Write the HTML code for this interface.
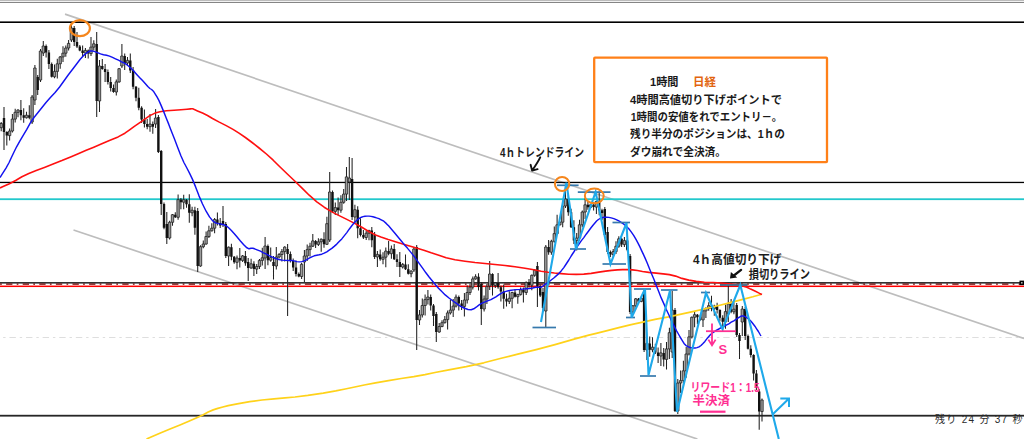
<!DOCTYPE html>
<html><head><meta charset="utf-8"><title>chart</title><style>html,body{margin:0;padding:0;background:#fff;overflow:hidden;font-family:"Liberation Sans",sans-serif}svg{display:block}</style></head><body><svg width="1024" height="439" viewBox="0 0 1024 439" shape-rendering="auto"><rect x="0" y="0" width="1024" height="439" fill="#fff"/><rect x="0" y="0" width="1024" height="1" fill="#bcbcbc"/><rect x="0" y="1" width="1024" height="1" fill="#f2f2f2"/><rect x="0" y="2" width="1024" height="1" fill="#858585"/><line x1="0" y1="337.5" x2="1024" y2="337.5" stroke="#dedede" stroke-width="1" stroke-dasharray="6.4 3.9 2.4 3.9" stroke-dashoffset="-9.45"/><g stroke="#bdbdbd" stroke-width="1.7" fill="none"><line x1="65" y1="14.1" x2="1024" y2="338.5"/><line x1="73.5" y1="230" x2="697.4" y2="439"/></g><g fill="#000"><rect x="0" y="21.4" width="1024" height="1.6"/><rect x="0" y="181.8" width="1024" height="1.3"/><rect x="0" y="414.8" width="1024" height="1.8" fill="#262626"/></g><rect x="0" y="198.3" width="1024" height="1.8" fill="#22c8cc"/><rect x="0" y="282.2" width="1021" height="1.3" fill="#000"/><line x1="0" y1="284.1" x2="1020" y2="284.1" stroke="#6a0000" stroke-width="1.3" stroke-dasharray="6.3 4.3 1.7 4.3" stroke-dashoffset="-6.1"/><rect x="0" y="285.55" width="1024" height="1.5" fill="#ff0000"/><rect x="1019.5" y="280.6" width="4.5" height="4.5" fill="#000"/><rect x="1021" y="282" width="1.6" height="1.6" fill="#aaa"/><path d="M1.2 122V131.2M4 107V150M6.8 131.2V145.6M9.6 128.5V140.6M12.4 114.1V132.5M15.2 108.8V122.6M18 109.2V117.3M20.9 100V120.2M23.7 108.2V122.8M26.5 111.7V118.6M29.3 105.2V119.3M32.1 95V124M34.9 65V105M37.7 75V95M40.5 49V82M43.3 41V56M46.1 44.5V57.5M48.9 50V69.1M51.7 62.6V77.6M54.5 64.4V78.3M57.3 58.8V78.4M60.2 56.1V68.8M63 46.2V61.9M65.8 45.5V56.7M68.6 39.9V50.5M71.4 23.5V42M74.2 26V46M77 32V48M79.8 45V51.2M82.6 45.4V56.5M85.4 47.9V58M88.2 49.6V58.6M91 37.1V56.1M93.8 40.3V50.6M96.7 32V117M99.5 60V112M102.3 59V69.7M105.1 63.9V81.9M107.9 69.4V84.5M110.7 77V91.5M113.5 84.5V92.8M116.3 79.4V95.5M119.1 67.9V82.7M121.9 44V68M124.7 53.5V70M127.5 56.9V65.5M130.3 53.4V72.9M133.1 66.9V89.2M136 85.9V101.2M138.8 87.7V110.2M141.6 106.2V123M144.4 109.5V127.6M147.2 119.1V129.2M150 114.1V131.7M152.8 121.6V133.7M155.6 109V128M158.4 115V153M161.2 150V215M164 202.5V229.3M166.8 212V244M169.6 220.8V239.5M172.5 213.9V225.8M175.3 212.2V218.1M178.1 194.6V219.8M180.9 198.1V209.2M183.7 194.7V209.2M186.5 198.9V207.8M189.3 194.3V222.8M192.1 206.7V216.3M194.9 206.7V234.7M197.7 208V272M200.5 245.2V266.8M203.3 240.5V248.2M206.1 231.5V244.8M208.9 225.8V238M211.8 223.2V231.6M214.6 218V233.2M217.4 212.5V225.4M220.2 217.9V228M223 206V227M225.8 222V258M228.6 246.4V266M231.4 243.7V260.2M234.2 255.9V263.8M237 255.5V269.3M239.8 248V267.4M242.6 255.1V261.9M245.4 250.9V265.7M248.2 258V281M251.1 258.8V268.8M253.9 261.3V276.1M256.7 264V274.1M259.5 258.9V269M262.3 247.8V265.4M265.1 237V269M267.9 244.5V265.2M270.7 247.6V261.7M273.5 256V279.5M276.3 247V269.5M279.1 253V258.5M281.9 249.1V261.5M284.7 246.3V261.6M287.6 244V316M290.4 251.5V262.6M293.2 258.6V271.1M296 260.6V276.4M298.8 272.4V277.3M301.6 262.8V279M304.4 250V282M307.2 244.6V261M310 242.7V256.6M312.8 233.9V247M315.6 240.1V247.9M318.4 238.3V245.9M321.2 238.4V251.8M324 232.2V247.8M326.9 216.7V245.1M329.7 172V242M332.5 190.5V212.9M335.3 202.6V214.9M338.1 197.6V215.2M340.9 195.3V212.7M343.7 189.1V203.8M346.5 166.9V201.1M349.3 157V200M352.1 158V220M354.9 204.7V224M357.7 206.2V238.2M360.5 218.2V236.4M363.4 229.9V239M366.2 230.7V240M369 229.8V240.2M371.8 227.1V247.2M374.6 232V259M377.4 250.9V267M380.2 249.4V260.8M383 252.2V264.3M385.8 247.6V267.2M388.6 241.1V255.2M391.4 245.4V258.7M394.2 243.9V260M397 254.2V267.1M399.8 252.1V277M402.7 262.9V268.5M405.5 254.4V270M408.3 264.2V274.5M411.1 270.3V277.2M413.9 247V272M416.7 245V350M419.5 309.9V325M422.3 298.5V317.4M425.1 294.6V315.5M427.9 290V304.6M430.7 294.5V310.6M433.5 304.1V326.1M436.3 312V342M439.2 323V332.8M442 320.2V327.3M444.8 316.1V323.5M447.6 310.4V329.6M450.4 300.1V314.4M453.2 299.1V317.1M456 294.6V307.6M458.8 295.6V310.6M461.6 300.1V309.9M464.4 293V316.4M467.2 285.5V303.5M470 283.6V295M472.8 276.4V289.6M475.6 274.2V279.7M478.5 273.2V290.5M481.3 282V325M484.1 295.5V311.5M486.9 284.1V304M489.7 261V290M492.5 273.2V295.5M495.3 282.1V288M498.1 272.9V288.8M500.9 285.8V301.6M503.7 284.6V308.8M506.5 293.8V306.4M509.3 291.3V303.9M512.1 291.7V308.3M515 289V297.5M517.8 293.8V303.7M520.6 287.4V295.4M523.4 287.4V302.5M526.2 281.6V295M529 278.9V287.7M531.8 274.5V290.2M534.6 269.3V276.8M537.4 262V307M540.2 284.5V297M543 288V310M545.8 245V327M548.6 240V254.7M551.4 239.8V254.7M554.3 226.6V242.8M557.1 214.8V234.4M559.9 221.4V225.6M562.7 201.2V227.2M565.5 185V208M568.3 194V215.7M571.1 208.7V228M573.9 220.2V244M576.7 233.1V250.5M579.5 219.8V240.6M582.3 210.5V227.3M585.1 197.8V219M587.9 201.3V209.8M590.7 203.9V208.1M593.6 202.2V210.6M596.4 200.7V214.1M599.2 191.5V215.3M602 208.8V219.9M604.8 207V237M607.6 227V254M610.4 250.5V257.1M613.2 249.1V257.1M616 241.2V254.1M618.8 236.3V247.7M621.6 238V247.1M624.4 237.1V247.1M627.2 239.1V251.3M630.1 254V314M632.9 305V312.8M635.7 298V307.3M638.5 298V303.9M641.3 296.7V302.2M644.1 290V352M646.9 338.4V360M649.7 336.4V356.8M652.5 337.2V352.3M655.3 343.7V353.9M658.1 347.4V363M660.9 342.9V366M663.7 347.9V366.4M666.5 341.9V369.4M669.4 327.7V358.9M672.2 291V358M675 308V412M677.8 379V414M680.6 370.6V393M683.4 360.8V387.6M686.2 347V377.8M689 329.9V355.5M691.8 316.5V338.4M694.6 311.2V327.3M697.4 313.9V324.3M700.2 314.8V320.7M703 310.1V326.9M705.9 307.5V317.9M708.7 302.2V310.8M711.5 295.7V311.3M714.3 304.7V315.8M717.1 302.7V313.6M719.9 309.3V321.2M722.7 315.2V331.8M725.5 304.6V328.8M728.3 285V322M731.1 299V313.3M733.9 302.2V314.3M736.7 303V337M739.5 333V359M742.3 306V336M745.2 307V340M748 334.5V349.5M750.8 345.2V357.5M753.6 354.2V380.6M756.4 370.1V390M759.2 389V429.7M762 398.5V421.6" stroke="#222" stroke-width="1.05" fill="none"/><path d="M2.8 118h2.4V132h-2.4ZM5.6 132h2.4V135.6h-2.4ZM19.7 110h2.4V115.2h-2.4ZM22.5 115.2h2.4V117.8h-2.4ZM28.1 115.2h2.4V117.8h-2.4ZM36.5 77h2.4V90h-2.4ZM44.9 46h2.4V52.5h-2.4ZM47.7 52.5h2.4V64.1h-2.4ZM50.5 64.1h2.4V76.8h-2.4ZM73 28h2.4V42h-2.4ZM75.8 42h2.4V46.5h-2.4ZM78.6 46.5h2.4V50.4h-2.4ZM81.4 50.4h2.4V53h-2.4ZM87 50.4h2.4V53.6h-2.4ZM95.5 44h2.4V101h-2.4ZM101.1 66h2.4V68.9h-2.4ZM103.9 68.9h2.4V71.9h-2.4ZM106.7 71.9h2.4V82h-2.4ZM109.5 82h2.4V88h-2.4ZM112.3 88h2.4V92h-2.4ZM123.5 56h2.4V63h-2.4ZM129.1 60.4h2.4V70.4h-2.4ZM131.9 70.4h2.4V86.7h-2.4ZM134.8 86.7h2.4V97.7h-2.4ZM137.6 97.7h2.4V107.7h-2.4ZM140.4 107.7h2.4V119.5h-2.4ZM143.2 119.5h2.4V124.1h-2.4ZM146 124.1h2.4V126.7h-2.4ZM151.6 124.1h2.4V126.7h-2.4ZM157.2 117h2.4V152h-2.4ZM160 151h2.4V204h-2.4ZM162.8 204h2.4V227.8h-2.4ZM165.6 224h2.4V238h-2.4ZM174.1 214.7h2.4V217.3h-2.4ZM179.7 199.6h2.4V202.2h-2.4ZM185.3 199.7h2.4V204.3h-2.4ZM188.1 204.3h2.4V212.8h-2.4ZM193.7 210.2h2.4V227.7h-2.4ZM196.5 211h2.4V266h-2.4ZM216.2 219.5h2.4V222.9h-2.4ZM219 222.9h2.4V225.5h-2.4ZM221.8 221h2.4V224h-2.4ZM224.6 224h2.4V256h-2.4ZM230.2 247.2h2.4V256.7h-2.4ZM233 256.7h2.4V262.3h-2.4ZM238.6 258h2.4V260.4h-2.4ZM244.2 255.9h2.4V263.2h-2.4ZM247 262h2.4V268h-2.4ZM252.7 263.8h2.4V269.1h-2.4ZM266.7 246h2.4V260.2h-2.4ZM272.3 262h2.4V266h-2.4ZM286.4 249h2.4V254h-2.4ZM289.2 254h2.4V261.1h-2.4ZM292 261.1h2.4V267.6h-2.4ZM294.8 267.6h2.4V273.9h-2.4ZM297.6 273.9h2.4V276.5h-2.4ZM314.4 240.9h2.4V244.4h-2.4ZM322.8 239.2h2.4V244.3h-2.4ZM331.3 192h2.4V211.4h-2.4ZM336.9 207.6h2.4V210.2h-2.4ZM350.9 179h2.4V217h-2.4ZM356.5 209.7h2.4V228.2h-2.4ZM359.3 228.2h2.4V234.9h-2.4ZM362.2 234.9h2.4V237.5h-2.4ZM370.6 230.6h2.4V240.2h-2.4ZM373.4 235h2.4V257h-2.4ZM379 254.4h2.4V259.3h-2.4ZM387.4 251.1h2.4V253.7h-2.4ZM393 248.9h2.4V259.2h-2.4ZM395.8 259.2h2.4V262.1h-2.4ZM398.6 262.1h2.4V267h-2.4ZM404.3 264.4h2.4V269.2h-2.4ZM407.1 269.2h2.4V273.7h-2.4ZM415.5 247h2.4V320h-2.4ZM429.5 297h2.4V305.6h-2.4ZM432.3 305.6h2.4V316.1h-2.4ZM435.1 314h2.4V332h-2.4ZM457.6 297.1h2.4V303.6h-2.4ZM460.4 303.6h2.4V306.4h-2.4ZM477.3 276.7h2.4V287h-2.4ZM480.1 284h2.4V309h-2.4ZM491.3 274h2.4V285.5h-2.4ZM496.9 282.9h2.4V287.3h-2.4ZM499.7 287.3h2.4V291.6h-2.4ZM502.5 291.6h2.4V298.8h-2.4ZM505.3 298.8h2.4V301.4h-2.4ZM513.8 292.5h2.4V296.7h-2.4ZM522.2 289.9h2.4V292.5h-2.4ZM527.8 282.4h2.4V285.2h-2.4ZM536.2 266h2.4V286h-2.4ZM539 286h2.4V295.5h-2.4ZM541.8 292h2.4V308h-2.4ZM547.4 247h2.4V252.2h-2.4ZM567.1 199h2.4V212.2h-2.4ZM569.9 212.2h2.4V227.2h-2.4ZM572.7 227.2h2.4V240.5h-2.4ZM586.7 204.8h2.4V207.3h-2.4ZM592.4 204.7h2.4V207.1h-2.4ZM598 201.5h2.4V210.3h-2.4ZM600.8 210.3h2.4V212.9h-2.4ZM603.6 209h2.4V235h-2.4ZM606.4 232h2.4V252h-2.4ZM609.2 252h2.4V254.6h-2.4ZM620.4 238.8h2.4V244.6h-2.4ZM626 240.6h2.4V249.8h-2.4ZM628.9 256h2.4V312h-2.4ZM637.3 298.8h2.4V301.4h-2.4ZM642.9 292h2.4V350h-2.4ZM648.5 343.4h2.4V349.8h-2.4ZM654.1 347.2h2.4V352.4h-2.4ZM656.9 352.4h2.4V356h-2.4ZM662.5 352.9h2.4V359.4h-2.4ZM673.8 310h2.4V411h-2.4ZM696.2 314.7h2.4V317.3h-2.4ZM699 317.3h2.4V319.9h-2.4ZM710.3 305.7h2.4V308.8h-2.4ZM715.9 306.2h2.4V310.1h-2.4ZM718.7 310.1h2.4V317.7h-2.4ZM721.5 317.7h2.4V321.8h-2.4ZM729.9 304h2.4V311.8h-2.4ZM735.5 305h2.4V335h-2.4ZM738.3 335h2.4V341h-2.4ZM744 309h2.4V336h-2.4ZM746.8 336h2.4V348.7h-2.4ZM749.6 348.7h2.4V355h-2.4ZM752.4 355h2.4V373.6h-2.4ZM755.2 373.6h2.4V387.5h-2.4ZM758 391.4h2.4V411.5h-2.4Z" fill="#111"/><path d="M0 123.5h2.4V127.7h-2.4ZM8.4 131h2.4V135.6h-2.4ZM11.2 119.1h2.4V131h-2.4ZM14 112.3h2.4V119.1h-2.4ZM16.8 110h2.4V112.3h-2.4ZM25.3 115.2h2.4V117.8h-2.4ZM30.9 97h2.4V122h-2.4ZM33.7 68h2.4V100h-2.4ZM39.3 51h2.4V80h-2.4ZM42.1 46h2.4V53h-2.4ZM53.3 71.4h2.4V76.8h-2.4ZM56.1 63.8h2.4V71.4h-2.4ZM59 56.9h2.4V63.8h-2.4ZM61.8 53.2h2.4V56.9h-2.4ZM64.6 48h2.4V53.2h-2.4ZM67.4 43.4h2.4V48h-2.4ZM70.2 28h2.4V40h-2.4ZM84.2 50.4h2.4V53h-2.4ZM89.8 47.1h2.4V53.6h-2.4ZM92.6 43.8h2.4V47.1h-2.4ZM98.3 66h2.4V101h-2.4ZM115.1 81.9h2.4V92h-2.4ZM117.9 68.7h2.4V81.9h-2.4ZM120.7 56h2.4V66h-2.4ZM126.3 60.4h2.4V63h-2.4ZM148.8 124.1h2.4V126.7h-2.4ZM154.4 118h2.4V124h-2.4ZM168.4 222.3h2.4V238h-2.4ZM171.3 214.7h2.4V222.3h-2.4ZM176.9 199.6h2.4V217.3h-2.4ZM182.5 199.7h2.4V202.2h-2.4ZM190.9 210.2h2.4V212.8h-2.4ZM199.3 246.7h2.4V266h-2.4ZM202.1 244h2.4V246.7h-2.4ZM204.9 236.5h2.4V244h-2.4ZM207.7 230.8h2.4V236.5h-2.4ZM210.6 228.2h2.4V230.8h-2.4ZM213.4 219.5h2.4V228.2h-2.4ZM227.4 247.2h2.4V256h-2.4ZM235.8 258h2.4V262.3h-2.4ZM241.4 255.9h2.4V260.4h-2.4ZM249.9 263.8h2.4V268h-2.4ZM255.5 266.5h2.4V269.1h-2.4ZM258.3 260.4h2.4V266.5h-2.4ZM261.1 257.8h2.4V260.4h-2.4ZM263.9 246h2.4V258h-2.4ZM269.5 257.6h2.4V260.2h-2.4ZM275.1 257h2.4V266h-2.4ZM277.9 254.5h2.4V257h-2.4ZM280.7 251.6h2.4V254.5h-2.4ZM283.5 247.1h2.4V251.6h-2.4ZM300.4 264.3h2.4V276.5h-2.4ZM303.2 256h2.4V262h-2.4ZM306 249.6h2.4V256h-2.4ZM308.8 246.2h2.4V249.6h-2.4ZM311.6 240.9h2.4V246.2h-2.4ZM317.2 241.8h2.4V244.4h-2.4ZM320 239.2h2.4V241.8h-2.4ZM325.7 223.7h2.4V244.3h-2.4ZM328.5 192h2.4V240h-2.4ZM334.1 207.6h2.4V211.4h-2.4ZM339.7 202.3h2.4V210.2h-2.4ZM342.5 194.1h2.4V202.3h-2.4ZM345.3 176.9h2.4V194.1h-2.4ZM348.1 178h2.4V182h-2.4ZM353.7 209.7h2.4V217h-2.4ZM365 233.2h2.4V237.5h-2.4ZM367.8 230.6h2.4V233.2h-2.4ZM376.2 254.4h2.4V257h-2.4ZM381.8 257.2h2.4V259.3h-2.4ZM384.6 251.1h2.4V257.2h-2.4ZM390.2 248.9h2.4V253.7h-2.4ZM401.5 264.4h2.4V267h-2.4ZM409.9 271.1h2.4V273.7h-2.4ZM412.7 249h2.4V270h-2.4ZM418.3 314.9h2.4V320h-2.4ZM421.1 305.5h2.4V314.9h-2.4ZM423.9 299.6h2.4V305.5h-2.4ZM426.7 297h2.4V299.6h-2.4ZM438 326.5h2.4V332h-2.4ZM440.8 322.7h2.4V326.5h-2.4ZM443.6 319.6h2.4V322.7h-2.4ZM446.4 312.9h2.4V319.6h-2.4ZM449.2 310.1h2.4V312.9h-2.4ZM452 306.1h2.4V310.1h-2.4ZM454.8 297.1h2.4V306.1h-2.4ZM463.2 300h2.4V306.4h-2.4ZM466 292.5h2.4V300h-2.4ZM468.8 287.1h2.4V292.5h-2.4ZM471.6 278.9h2.4V287.1h-2.4ZM474.4 276.7h2.4V278.9h-2.4ZM482.9 299h2.4V309h-2.4ZM485.7 286.6h2.4V299h-2.4ZM488.5 274h2.4V286h-2.4ZM494.1 282.9h2.4V285.5h-2.4ZM508.1 298.3h2.4V301.4h-2.4ZM510.9 292.5h2.4V298.3h-2.4ZM516.6 294.6h2.4V296.7h-2.4ZM519.4 289.9h2.4V294.6h-2.4ZM525 282.4h2.4V292.5h-2.4ZM530.6 275.3h2.4V285.2h-2.4ZM533.4 270.1h2.4V275.3h-2.4ZM544.6 247h2.4V311h-2.4ZM550.2 241.3h2.4V252.2h-2.4ZM553.1 233.6h2.4V241.3h-2.4ZM555.9 224.8h2.4V233.6h-2.4ZM558.7 222.2h2.4V224.8h-2.4ZM561.5 206.2h2.4V222.2h-2.4ZM564.3 199h2.4V206h-2.4ZM575.5 238.1h2.4V240.5h-2.4ZM578.3 224.8h2.4V238.1h-2.4ZM581.1 212h2.4V224.8h-2.4ZM583.9 204.8h2.4V212h-2.4ZM589.5 204.7h2.4V207.3h-2.4ZM595.2 201.5h2.4V207.1h-2.4ZM612 251.6h2.4V254.6h-2.4ZM614.8 246.2h2.4V251.6h-2.4ZM617.6 238.8h2.4V246.2h-2.4ZM623.2 240.6h2.4V244.6h-2.4ZM631.7 305.8h2.4V312h-2.4ZM634.5 298.8h2.4V305.8h-2.4ZM640.1 298.2h2.4V301.4h-2.4ZM645.7 343.4h2.4V350h-2.4ZM651.3 347.2h2.4V349.8h-2.4ZM659.7 352.9h2.4V356h-2.4ZM665.3 348.9h2.4V359.4h-2.4ZM668.2 332.7h2.4V348.9h-2.4ZM671 310h2.4V352h-2.4ZM676.6 383h2.4V411h-2.4ZM679.4 380.6h2.4V383h-2.4ZM682.2 370.8h2.4V380.6h-2.4ZM685 354h2.4V370.8h-2.4ZM687.8 336.9h2.4V354h-2.4ZM690.6 317.3h2.4V336.9h-2.4ZM693.4 314.7h2.4V317.3h-2.4ZM701.8 310.9h2.4V319.9h-2.4ZM704.7 308.3h2.4V310.9h-2.4ZM707.5 305.7h2.4V308.3h-2.4ZM713.1 306.2h2.4V308.8h-2.4ZM724.3 311.6h2.4V321.8h-2.4ZM727.1 304h2.4V314h-2.4ZM732.7 309.2h2.4V311.8h-2.4ZM741.1 309h2.4V322h-2.4ZM760.8 400h2.4V411.5h-2.4Z" fill="#9c9c9c" stroke="#222" stroke-width="0.8"/><polyline points="146.5,439 151.1,437 160.4,433 170,429 180,425 188.8,421.3 196.2,418 202.8,414.9 208.2,412 213.2,409.9 217.8,408.4 222.8,407 228.2,405.6 237.2,403.9 249.8,401.7 262,400 274,398.8 285,397.8 295,397 307.8,395.4 323.2,393.1 335.8,390.9 345.2,389 354.8,387 364.2,385 375.5,382.9 388.5,380.6 401.2,378.5 413.8,376.6 425,374.6 435,372.5 448.8,369.9 466.2,366.6 483.8,362.8 501.2,358.2 518.8,353.9 536.2,349.6 555,344.6 575,338.9 588.8,335.1 596.2,333.4 606.2,330.9 618.8,327.6 631.2,324.6 643.8,321.9 656.2,319.2 668.8,316.8 681.2,314.1 693.8,311.4 706.2,308.5 718.8,305.5 731.2,302.4 743.8,299.1 752.8,296.8 758.2,295.2 761,294.5" fill="none" stroke="#ffd21a" stroke-width="1.7" stroke-linejoin="round"/><polyline points="0,188 3.1,186.6 9.4,183.7 15.6,180.5 21.9,176.8 28.8,173.5 36.2,170.5 44.4,167.4 53.1,164.1 61.9,160.6 70.6,156.9 78.8,153.4 86.2,150.3 93.8,147.2 101.2,144.1 109.4,140.6 118.1,136.9 124.9,133.2 129.6,129.8 134,126.6 138,123.9 143.1,120.3 149.4,115.9 155,113.1 160,111.7 166.4,110.8 174.1,110.2 181,109.7 187,109.2 190.6,108.9 191.7,108.8 192.4,108.8 192.4,108.8 192.6,108.8 192.6,108.8 193.3,109.1 194.4,109.6 197.5,110.9 202.5,113 207.5,115.5 212.5,118.5 218.8,121.9 226.2,125.6 233,129.4 239,133.1 245.4,137.5 252.1,142.5 259.1,148 266.4,154 273.2,160.2 279.8,166.8 286.8,173.5 294.2,180.5 301.8,187.8 309.2,195.2 316.8,201.8 324.2,207.2 331.8,211.9 339.2,215.6 346.8,219.4 354.2,223.1 361.8,227.2 369.2,231.8 375.6,235 380.9,237 388.2,239.5 397.8,242.5 406.9,245.2 415.6,247.8 423.8,250.2 431.2,252.8 438.8,255.2 446.2,257.8 455,259.8 465,261.2 475,262.5 485,263.5 495,264.5 505,265.5 515,266.8 525,268.2 533.8,269.8 541.2,271.2 548.1,272.3 554.4,273 561.2,273.6 568.8,274.2 576.2,274.4 583.8,274.1 591.2,273.4 598.8,272.1 605.6,271.1 611.9,270.4 617.5,269.9 622.5,269.6 627.5,269.6 632.5,269.9 637.5,270.5 642.5,271.5 648.8,272.4 656.2,273.1 663.1,273.9 669.4,274.6 675.6,276.1 681.9,278.4 688.8,280.1 696.2,281.4 704.4,282.2 713.1,282.5 721.1,283 728.4,283.7 735.2,284.6 741.8,285.7 746.9,287.2 750.6,289.1 754.9,291.1 759.6,293.4 762,294.5" fill="none" stroke="#ff1010" stroke-width="1.6" stroke-linejoin="round"/><polyline points="0,177.5 2,174.4 6,168.1 9.1,162.5 11.4,157.5 13.9,152.2 16.6,146.8 19.8,141.1 23.2,135.4 26.8,129.4 30.2,123.1 34,117.5 38,112.5 42,107.5 46,102.5 50.4,97.5 55.1,92.5 59.6,87 63.9,81 68.2,75 72.8,69 76.8,63.8 80.2,59.2 83.2,55.9 85.8,53.6 88,52 90,51 92.2,50.9 94.8,51.6 97.5,52.6 100.5,53.9 103.5,54.8 106.5,55.2 109.5,56.1 112.5,57.4 115.5,58.8 118.5,60.2 121.5,61.8 124.5,63.2 127.5,65.2 130.5,67.8 133.5,70.8 136.5,74.2 139.5,77.5 142.5,80.5 145.2,83.5 147.8,86.5 149.9,88.5 151.6,89.5 153.4,91.2 155.1,93.8 157,96.9 159,100.6 161.2,105.6 163.8,111.9 166.2,118.1 168.8,124.4 171.5,131.4 174.5,139.1 177.6,147.2 180.9,155.8 183.9,162.5 186.6,167.5 189.5,173.1 192.5,179.4 195.6,186.9 198.9,195.6 202.4,203.8 206.1,211.2 209.5,216.9 212.5,220.6 215.5,222.9 218.5,223.6 221.4,224.2 224.1,224.8 226.6,226 228.9,228 231.4,230.5 234.1,233.5 237.1,237 240.4,241 243.5,244.5 246.5,247.5 249,248.8 251,248.2 252.9,248.2 254.6,248.8 257.1,249.8 260.4,251.2 263.5,252.8 266.5,254.2 269.5,255.8 272.5,257.2 275.6,258.5 278.9,259.5 282.1,260.1 285.4,260.4 288.5,260.5 291.5,260.5 294.2,260.9 296.8,261.6 299.2,261.9 301.8,261.6 304.2,260.9 306.8,259.6 309.2,258.2 311.8,256.8 314.2,255.8 316.8,255.2 319.2,254.8 321.8,254.2 324.2,253.2 326.8,251.8 329.2,250.1 331.8,248.4 334.2,246.4 336.8,244.1 339.2,241.6 341.8,238.9 344.2,235.9 346.8,232.6 349.2,229.2 351.8,225.8 354,223 356,221 357.9,219.4 359.6,218.1 361.4,217.2 363.1,216.6 365,216.2 367,216.1 369,216.1 371,216.4 372.9,216.8 374.6,217.2 376.6,217.9 378.9,218.6 381.2,219.8 383.8,221.2 386.2,223.4 388.8,226.1 391.5,229.2 394.5,232.8 397.6,236.5 400.9,240.5 404.1,244.4 407.4,248.1 410.5,251.9 413.5,255.6 416.5,259.6 419.5,263.9 422.6,268.2 425.9,272.8 429.1,277 432.4,281 435.5,284.8 438.5,288.2 441.8,291.6 445.2,294.9 449,298 453,301 456.8,303.7 460.2,306.1 464,308 468,309.5 471.2,309.7 473.8,308.8 476.2,307.2 478.8,305.1 481.5,303.4 484.5,302.1 487.6,300.9 490.9,299.6 493.6,298.2 495.9,296.8 498.4,295.1 501.1,293.4 503.6,292.1 505.9,291.4 508.4,290.8 511.1,290.2 513.9,289.9 516.6,289.6 519.8,289.4 523.2,289.1 526.5,288.8 529.5,288.5 532.6,288 535.9,287.3 538.4,287.1 540.1,287.4 542,286.8 544,285.2 546.2,283.6 548.8,281.9 551.2,280 553.8,278 556.2,275.9 558.8,273.6 561.2,270.9 563.8,267.6 566.2,264 568.8,260 571.2,256 573.8,252 576.2,248.1 578.8,244.4 581.2,240.9 583.8,237.6 586.2,234.2 588.8,230.8 591,227.8 593,225.2 594.9,223 596.6,221 598.4,219.5 600.1,218.5 602,217.8 604,217.2 606.2,217.1 608.8,217.4 611.2,217.9 613.8,218.6 616.2,219.6 618.8,220.9 621.2,222.4 623.8,224.1 626.2,226.2 628.8,228.8 631.2,231.9 633.8,235.6 636,239.4 638,243.1 639.9,246.9 641.6,250.6 643.4,254.4 645.1,258.1 647,262.5 649,267.5 651.2,273 653.8,279 656.2,285.2 658.8,291.8 661.2,297.9 663.8,303.6 666.2,309.2 668.8,314.8 671,319.6 673,323.9 674.9,327.6 676.6,330.9 678.4,334 680.1,337 682,340.1 684,343.4 686,345.6 688,346.7 689.9,347.5 691.6,347.8 693.4,348 695.1,348 697,347.6 699,346.9 701,345.5 703,343.5 704.9,341.4 706.6,339.1 708.4,337 710.1,335 712,333.2 714,331.8 716.2,330.3 718.8,329 721.2,327.7 723.8,326.6 726.2,325.2 728.8,323.8 731.2,322.2 733.8,320.8 736,319.3 738,318 739.9,316.9 741.6,315.9 743.4,315.9 745.1,316.6 747,317.8 749,319.2 751,321.2 753,323.8 754.9,326.2 756.6,328.8 758.4,331.5 760.1,334.5 761,336" fill="none" stroke="#1212f0" stroke-width="1.45" stroke-linejoin="round"/><g stroke="#3679ad" stroke-width="1.7"><line x1="557" y1="185.3" x2="578.6" y2="185.3"/><line x1="577.8" y1="192.1" x2="610.5" y2="192.1"/><line x1="570" y1="249" x2="586" y2="249"/><line x1="602.5" y1="264" x2="626" y2="264"/><line x1="612.5" y1="222.5" x2="630" y2="222.5"/><line x1="532.5" y1="327.5" x2="556" y2="327.5"/><line x1="626" y1="317.5" x2="635" y2="317.5"/><line x1="634" y1="289" x2="651" y2="289"/><line x1="661" y1="290" x2="677.5" y2="290"/><line x1="701" y1="292.5" x2="710" y2="292.5"/><line x1="640" y1="376" x2="656" y2="376"/></g><line x1="720" y1="285" x2="747.5" y2="285" stroke="#4a6a8a" stroke-width="1.9"/><polyline points="541,322 566.4,182.6 576,249 595.6,192 610.5,264 626.5,223 631.6,317.5 645,289 648.5,375 670,290.5 677,412 706,293 722.5,329.2 740.3,285 772.8,415 778.8,439" fill="none" stroke="#1fa9ea" stroke-width="2.1" stroke-linejoin="miter"/><path d="M772.5 414.5L789 398.5M780.3 398.5H789V407" fill="none" stroke="#1fa9ea" stroke-width="2"/><g fill="none" stroke="#f5861c" stroke-width="2"><ellipse cx="79.9" cy="28.2" rx="10" ry="8" stroke-width="2.2"/><ellipse cx="562.1" cy="184" rx="7.2" ry="7.1"/><ellipse cx="594.3" cy="195.9" rx="9.4" ry="7.4"/></g><rect x="594.2" y="57.7" width="232.8" height="104.4" rx="0.8" fill="#fff" stroke="#ff8018" stroke-width="2.3"/><g font-family="&quot;Liberation Sans&quot;, &quot;Noto Sans CJK JP&quot;, sans-serif" font-weight="bold"><text x="650" y="86.3" font-size="11.5" fill="#1a1a1a" textLength="28.5" lengthAdjust="spacingAndGlyphs">1時間</text><text x="693" y="86.3" font-size="11.5" fill="#e2640e" textLength="23" lengthAdjust="spacingAndGlyphs">日経</text><text x="630" y="103.9" font-size="11.5" fill="#1a1a1a" textLength="152" lengthAdjust="spacingAndGlyphs">4時間高値切り下げポイントで</text><text x="630.8" y="121.1" font-size="11.5" fill="#1a1a1a" textLength="151.5" lengthAdjust="spacingAndGlyphs">1時間の安値をれでエントリ－。</text><text x="630" y="138.3" font-size="11.5" fill="#1a1a1a" textLength="155" lengthAdjust="spacingAndGlyphs">残り半分のポジションは、1ｈの</text><text x="630" y="155.5" font-size="11.5" fill="#1a1a1a" textLength="96" lengthAdjust="spacingAndGlyphs">ダウ崩れで全決済。</text><text x="500" y="157.2" font-size="12" fill="#1c1c1c" textLength="84" lengthAdjust="spacingAndGlyphs">4ｈトレンドライン</text></g><path d="M540.2 157.3C538.5 161 535 166.3 532.3 170.2M530.6 164.8L532.1 170.6L537.6 169.2" fill="none" stroke="#111" stroke-width="1.9" stroke-linecap="round" stroke-linejoin="round"/><g font-family="&quot;Liberation Sans&quot;, &quot;Noto Sans CJK JP&quot;, sans-serif" font-weight="bold" fill="#1c1c1c"><text x="693" y="263.6" font-size="12.5" textLength="88.5" lengthAdjust="spacingAndGlyphs">4ｈ高値切り下げ</text><text x="748.7" y="278.8" font-size="12.5" textLength="61.3" lengthAdjust="spacingAndGlyphs">損切りライン</text></g><path d="M741.1 269.9L732.6 276.5" fill="none" stroke="#111" stroke-width="2.3" stroke-linecap="round"/><path d="M730 278.6L730.9 272L737.2 277.6Z" fill="#111"/><g fill="none" stroke="#ff2f92" stroke-width="1.8"><line x1="706" y1="331.2" x2="736" y2="331.2"/><path d="M712 323.5V344.8M708.4 339.6L712 345.4L715.6 339.6"/><line x1="700" y1="411.7" x2="725.5" y2="411.7" stroke-width="2.2"/></g><g font-family="&quot;Liberation Sans&quot;, &quot;Noto Sans CJK JP&quot;, sans-serif" font-weight="bold" fill="#ff2f92"><text x="718.5" y="354.3" font-size="13">S</text><text x="690.5" y="391.5" font-size="12" textLength="69" lengthAdjust="spacingAndGlyphs">リワード1：1.5</text><text x="692.5" y="405.3" font-size="12" textLength="37.5" lengthAdjust="spacingAndGlyphs">半決済</text></g><text x="935" y="423" font-size="10" fill="#2a2a2a" font-family="&quot;Liberation Sans&quot;, &quot;Noto Sans CJK JP&quot;, sans-serif" textLength="87.5" lengthAdjust="spacing">残り 24 分 37 秒</text></svg></body></html>
